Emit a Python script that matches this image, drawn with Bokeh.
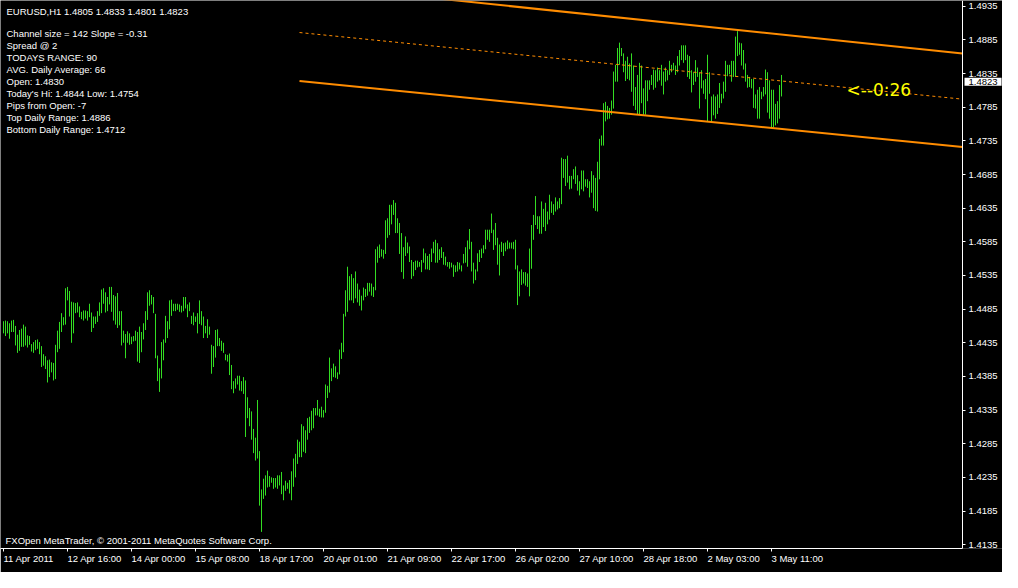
from bokeh.plotting import figure
from bokeh.models import ColumnDataSource, FixedTicker, Label, NumeralTickFormatter, Range1d
from bokeh.embed import file_html
from bokeh.resources import INLINE

# ---------------- data (EURUSD H1) ----------------
highs = [
1.4467,1.4468,1.4467,1.4464,1.4468,1.4469,1.4460,1.4447,1.4454,1.4456,
1.4462,1.4459,1.4446,1.4445,1.4433,1.4436,1.4439,1.4440,1.4436,1.4430,
1.4418,1.4415,1.4409,1.4410,1.4406,1.4405,1.4432,1.4453,1.4466,1.4479,
1.4473,1.4516,1.4518,1.4512,1.4496,1.4495,1.4494,1.4495,1.4489,1.4481,
1.4483,1.4483,1.4482,1.4493,1.4480,1.4474,1.4474,1.4482,1.4495,1.4514,
1.4516,1.4510,1.4503,1.4518,1.4518,1.4506,1.4504,1.4509,1.4482,1.4482,
1.4453,1.4448,1.4452,1.4449,1.4444,1.4445,1.4453,1.4451,1.4459,1.4451,
1.4464,1.4482,1.4510,1.4513,1.4506,1.4503,1.4478,1.4416,1.4397,1.4436,
1.4440,1.4475,1.4467,1.4498,1.4499,1.4493,1.4493,1.4493,1.4492,1.4490,
1.4503,1.4503,1.4492,1.4495,1.4475,1.4480,1.4474,1.4479,1.4498,1.4482,
1.4474,1.4460,1.4470,1.4459,1.4432,1.4430,1.4454,1.4455,1.4442,1.4438,
1.4435,1.4418,1.4417,1.4419,1.4402,1.4378,1.4382,1.4386,1.4386,1.4378,
1.4384,1.4379,1.4354,1.4338,1.4333,1.4307,1.4294,1.4350,1.4274,1.4217,
1.4233,1.4238,1.4245,1.4237,1.4235,1.4234,1.4234,1.4238,1.4238,1.4243,
1.4223,1.4230,1.4227,1.4231,1.4244,1.4263,1.4270,1.4291,1.4288,1.4314,
1.4311,1.4305,1.4323,1.4325,1.4334,1.4338,1.4338,1.4350,1.4337,1.4340,
1.4335,1.4373,1.4371,1.4413,1.4397,1.4404,1.4400,1.4391,1.4425,1.4435,
1.4478,1.4513,1.4548,1.4534,1.4537,1.4531,1.4541,1.4523,1.4514,1.4505,
1.4517,1.4515,1.4524,1.4524,1.4523,1.4518,1.4574,1.4578,1.4581,1.4574,
1.4573,1.4617,1.4620,1.4640,1.4640,1.4647,1.4643,1.4620,1.4613,1.4598,
1.4577,1.4593,1.4584,1.4578,1.4558,1.4555,1.4557,1.4557,1.4555,1.4558,
1.4575,1.4568,1.4564,1.4567,1.4575,1.4585,1.4588,1.4583,1.4574,1.4577,
1.4570,1.4563,1.4555,1.4555,1.4554,1.4551,1.4550,1.4555,1.4554,1.4550,
1.4567,1.4577,1.4587,1.4604,1.4585,1.4554,1.4544,1.4568,1.4573,1.4575,
1.4580,1.4603,1.4603,1.4603,1.4627,1.4603,1.4613,1.4591,1.4581,1.4585,
1.4583,1.4584,1.4587,1.4584,1.4584,1.4585,1.4588,1.4550,1.4541,1.4544,
1.4540,1.4540,1.4538,1.4575,1.4610,1.4625,1.4653,1.4623,1.4623,1.4645,
1.4634,1.4643,1.4630,1.4655,1.4645,1.4641,1.4651,1.4645,1.4650,1.4710,
1.4708,1.4708,1.4713,1.4683,1.4683,1.4693,1.4697,1.4684,1.4675,1.4691,
1.4691,1.4678,1.4678,1.4675,1.4690,1.4684,1.4680,1.4704,1.4738,1.4743,
1.4791,1.4793,1.4787,1.4784,1.4795,1.4838,1.4848,1.4873,1.4881,1.4873,
1.4865,1.4854,1.4860,1.4850,1.4865,1.4847,1.4815,1.4833,1.4851,1.4847,
1.4813,1.4825,1.4825,1.4825,1.4833,1.4841,1.4840,1.4844,1.4840,1.4848,
1.4838,1.4844,1.4840,1.4854,1.4848,1.4851,1.4847,1.4861,1.4870,1.4877,
1.4877,1.4877,1.4863,1.4861,1.4840,1.4837,1.4855,1.4844,1.4837,1.4840,
1.4825,1.4827,1.4863,1.4837,1.4801,1.4804,1.4801,1.4804,1.4821,1.4805,
1.4823,1.4854,1.4848,1.4848,1.4854,1.4854,1.4890,1.4898,1.4881,1.4880,
1.4870,1.4850,1.4833,1.4830,1.4827,1.4827,1.4804,1.4811,1.4815,1.4808,
1.4815,1.4841,1.4837,1.4825,1.4811,1.4811,1.4790,1.4794,1.4818,1.4833,
]
lows = [
1.4449,1.4445,1.4449,1.4441,1.4451,1.4451,1.4431,1.4420,1.4423,1.4429,
1.4429,1.4431,1.4428,1.4432,1.4422,1.4420,1.4424,1.4426,1.4418,1.4399,
1.4401,1.4396,1.4376,1.4384,1.4391,1.4379,1.4381,1.4421,1.4426,1.4451,
1.4461,1.4462,1.4498,1.4474,1.4435,1.4449,1.4479,1.4480,1.4473,1.4470,
1.4468,1.4471,1.4468,1.4473,1.4451,1.4457,1.4463,1.4466,1.4475,1.4479,
1.4493,1.4480,1.4482,1.4492,1.4481,1.4468,1.4462,1.4457,1.4461,1.4431,
1.4435,1.4412,1.4435,1.4432,1.4433,1.4437,1.4438,1.4407,1.4405,1.4421,
1.4440,1.4454,1.4469,1.4490,1.4492,1.4479,1.4412,1.4378,1.4362,1.4382,
1.4409,1.4435,1.4442,1.4455,1.4475,1.4482,1.4482,1.4484,1.4481,1.4480,
1.4482,1.4486,1.4473,1.4482,1.4463,1.4461,1.4466,1.4449,1.4463,1.4461,
1.4442,1.4449,1.4442,1.4447,1.4389,1.4399,1.4413,1.4430,1.4430,1.4423,
1.4420,1.4409,1.4407,1.4387,1.4366,1.4360,1.4367,1.4373,1.4364,1.4363,
1.4359,1.4295,1.4323,1.4311,1.4291,1.4271,1.4260,1.4263,1.4193,1.4154,
1.4203,1.4208,1.4220,1.4221,1.4227,1.4218,1.4220,1.4218,1.4223,1.4210,
1.4201,1.4215,1.4218,1.4211,1.4201,1.4221,1.4235,1.4255,1.4265,1.4265,
1.4273,1.4271,1.4291,1.4301,1.4305,1.4308,1.4327,1.4327,1.4325,1.4324,
1.4324,1.4331,1.4353,1.4361,1.4378,1.4384,1.4383,1.4381,1.4388,1.4411,
1.4421,1.4474,1.4481,1.4498,1.4498,1.4494,1.4501,1.4495,1.4490,1.4483,
1.4498,1.4503,1.4505,1.4511,1.4505,1.4503,1.4513,1.4554,1.4561,1.4563,
1.4560,1.4567,1.4591,1.4595,1.4611,1.4625,1.4598,1.4598,1.4567,1.4540,
1.4530,1.4564,1.4568,1.4555,1.4530,1.4534,1.4543,1.4547,1.4548,1.4540,
1.4554,1.4544,1.4544,1.4543,1.4555,1.4568,1.4554,1.4554,1.4558,1.4561,
1.4551,1.4550,1.4548,1.4545,1.4547,1.4533,1.4540,1.4541,1.4544,1.4541,
1.4553,1.4554,1.4548,1.4574,1.4541,1.4523,1.4528,1.4541,1.4555,1.4561,
1.4568,1.4574,1.4588,1.4585,1.4598,1.4573,1.4580,1.4551,1.4535,1.4570,
1.4564,1.4571,1.4574,1.4575,1.4575,1.4574,1.4544,1.4491,1.4504,1.4521,
1.4523,1.4520,1.4518,1.4504,1.4545,1.4588,1.4610,1.4604,1.4597,1.4597,
1.4607,1.4601,1.4611,1.4618,1.4628,1.4625,1.4630,1.4633,1.4635,1.4641,
1.4680,1.4668,1.4673,1.4663,1.4664,1.4678,1.4671,1.4661,1.4654,1.4663,
1.4660,1.4667,1.4665,1.4651,1.4658,1.4635,1.4631,1.4630,1.4678,1.4728,
1.4728,1.4764,1.4767,1.4768,1.4774,1.4783,1.4823,1.4823,1.4848,1.4861,
1.4837,1.4824,1.4827,1.4825,1.4808,1.4787,1.4781,1.4774,1.4774,1.4791,
1.4774,1.4774,1.4794,1.4811,1.4818,1.4811,1.4814,1.4823,1.4825,1.4817,
1.4804,1.4823,1.4825,1.4833,1.4837,1.4840,1.4833,1.4837,1.4847,1.4855,
1.4851,1.4855,1.4830,1.4827,1.4807,1.4818,1.4823,1.4830,1.4783,1.4813,
1.4805,1.4797,1.4763,1.4805,1.4763,1.4773,1.4768,1.4775,1.4784,1.4791,
1.4798,1.4808,1.4831,1.4834,1.4823,1.4830,1.4830,1.4861,1.4863,1.4847,
1.4841,1.4823,1.4814,1.4815,1.4813,1.4784,1.4783,1.4768,1.4768,1.4797,
1.4801,1.4804,1.4777,1.4768,1.4754,1.4755,1.4758,1.4761,1.4768,1.4801,
]
bar_index = list(range(len(highs)))

date_tick_index = [0, 32, 64, 96, 128, 160, 192, 224, 256, 288, 320, 352, 384]
date_tick_labels = ["11 Apr 2011", "12 Apr 16:00", "14 Apr 00:00", "15 Apr 08:00",
                    "18 Apr 17:00", "20 Apr 01:00", "21 Apr 09:00", "22 Apr 17:00",
                    "26 Apr 02:00", "27 Apr 10:00", "28 Apr 18:00", "2 May 03:00",
                    "3 May 11:00"]
price_ticks = [1.4135, 1.4185, 1.4235, 1.4285, 1.4335, 1.4385, 1.4435, 1.4485, 1.4535,
               1.4585, 1.4635, 1.4685, 1.4735, 1.4785, 1.4835, 1.4885, 1.4935]

# regression channel (start bar / right-edge bar, prices at those bars)
channel_x = [148, 479.5]
channel_top = [1.4968, 1.4865]
channel_mid = [1.4896, 1.4797]
channel_bot = [1.4824, 1.4726]

header_text = "EURUSD,H1  1.4805 1.4833 1.4801 1.4823"
info_lines = ["Channel size = 142 Slope = -0.31", "Spread @ 2", "TODAYS RANGE: 90",
              "AVG. Daily Average: 66", "Open: 1.4830", "Today's Hi: 1.4844  Low: 1.4754",
              "Pips from Open: -7", "Top Daily Range: 1.4886", "Bottom Daily Range: 1.4712"]
footer_text = "FXOpen MetaTrader, \u00a9 2001-2011 MetaQuotes Software Corp."
current_price = 1.4823
timer_text = "<--0:26"
timer_bar = 421.5
timer_price = 1.4810

# ---------------- styling ----------------
GREEN = "#33DD22"
ORANGE = "#FF8C00"
FONT = "Liberation Sans"
FS = "9.5px"
FIG_W = 1002
FRAME_H = 548
BAR_PX = 2
X_LEFT = -1.5
X_RIGHT = X_LEFT + FIG_W / BAR_PX
AXIS_X = 479.5          # bar position of the price scale
Y_TOP, Y_BOT = 1.49436, 1.41293


def sx(px):
    # pixel from frame left -> bar index
    return X_LEFT + px / BAR_PX


def sy(px):
    # pixel from frame top -> price
    return Y_TOP - px * (Y_TOP - Y_BOT) / FRAME_H


p = figure(width=FIG_W, frame_height=FRAME_H, output_backend="svg",
           toolbar_location=None,
           x_range=Range1d(X_LEFT, X_RIGHT), y_range=Range1d(Y_BOT, Y_TOP),
           y_axis_location="right",
           min_border_left=0, min_border_top=0, min_border_right=0, min_border_bottom=0,
           background_fill_color="black", border_fill_color="black")
p.outline_line_color = None
p.xgrid.visible = False
p.ygrid.visible = False

src = ColumnDataSource(dict(x=bar_index, high=highs, low=lows))
p.segment(x0="x", y0="low", x1="x", y1="high", source=src, line_color=GREEN, line_width=1)

p.line(channel_x, channel_top, line_color=ORANGE, line_width=2)
p.line(channel_x, channel_bot, line_color=ORANGE, line_width=2)
p.line(channel_x, channel_mid, line_color=ORANGE, line_width=1, line_dash="3 3")

for ax in (p.xaxis[0], p.yaxis[0]):
    ax.axis_line_color = "white"
    ax.major_tick_line_color = "white"
    ax.minor_tick_line_color = None
    ax.major_tick_in = 0
    ax.major_tick_out = 3
    ax.major_label_text_color = "white"
    ax.major_label_text_font = FONT
    ax.major_label_text_font_size = FS

p.yaxis.ticker = FixedTicker(ticks=price_ticks)
p.yaxis.formatter = NumeralTickFormatter(format="0.0000")
p.yaxis.major_label_standoff = 3
p.yaxis.fixed_location = AXIS_X

p.xaxis.ticker = FixedTicker(ticks=date_tick_index)
p.xaxis.major_label_overrides = {i: s for i, s in zip(date_tick_index, date_tick_labels)}
p.xaxis.major_label_orientation = -0.00001
p.xaxis.major_label_standoff = 7
p.xaxis.bounds = (X_LEFT, AXIS_X)

# texts
p.add_layout(Label(x=sx(6), y=sy(11), text=header_text, text_color="white",
                   text_font=FONT, text_font_size=FS, text_baseline="middle"))
for k, line in enumerate(info_lines):
    p.add_layout(Label(x=sx(6), y=sy(33 + 12 * k), text=line, text_color="white",
                       text_font=FONT, text_font_size=FS, text_baseline="middle"))
p.add_layout(Label(x=sx(5), y=sy(FRAME_H - 8), text=footer_text, text_color="white",
                   text_font=FONT, text_font_size=FS, text_baseline="middle"))
p.add_layout(Label(x=timer_bar, y=timer_price, text=timer_text, text_color="#FFFF00",
                   text_font="DejaVu Sans", text_font_size="17px", text_baseline="middle"))
p.add_layout(Label(x=AXIS_X, y=current_price, x_offset=2, text="1.4823",
                   text_color="black", text_font=FONT, text_font_size=FS,
                   text_baseline="middle", background_fill_color="white",
                   background_fill_alpha=1.0, padding=(4, 1)))

open("out.html", "w").write(file_html(p, INLINE))
